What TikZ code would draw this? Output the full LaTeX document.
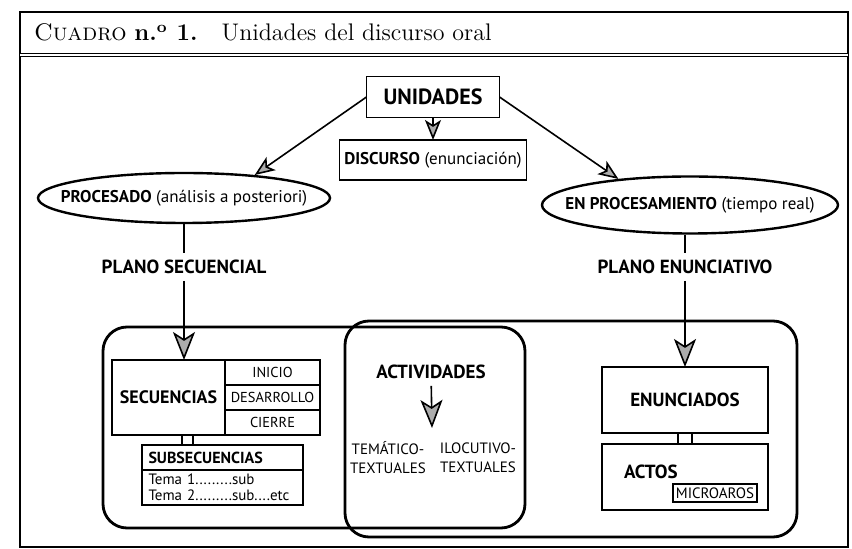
\documentclass[tikz,border=0pt]{standalone}
\usepackage{fontspec}
\setsansfont{PT Sans}
\usepackage{tikz}
\usetikzlibrary{shapes.geometric,arrows.meta,positioning}

\begin{document}
\begin{tikzpicture}[x=0.5pt,y=-0.5pt]
        \tikzstyle{every node} = [font=\sffamily\fontsize{8.5}{10}\selectfont]
        \tikzstyle{box} = [draw, rectangle, line width=0.8pt, inner sep=2pt, outer sep=0pt]
        \tikzstyle{oval} = [draw, ellipse, line width=1.2pt, inner xsep=-14pt, inner ysep=0pt]
        \tikzstyle{group} = [draw, rectangle, line width=1.4pt, rounded corners=12pt]
        \tikzstyle{link} = [draw, rectangle, line width=0.8pt, inner sep=0pt, outer sep=0pt, minimum height=5.5pt]
        \tikzstyle{small} = [font=\sffamily\fontsize{7.2}{8}\selectfont]
        \tikzstyle{head} = [font=\sffamily\bfseries\fontsize{9.5}{11}\selectfont]
        \tikzstyle{hatch} = [line width=0.8pt, -{Stealth[length=10pt, width=8pt, inset=2.5pt, fill=gray!65]}]
        \tikzstyle{bighatch} = [line width=0.8pt, -{Stealth[length=14pt, width=11pt, inset=3.5pt, fill=gray!65]}]
        \useasboundingbox (0,0) rectangle (852,549);
        % frame and title
        \draw[line width=0.9pt] (20,12) rectangle (848,547);
        \draw[line width=0.6pt, double, double distance=1.2pt] (20,55) -- (848,55);
        \node[anchor=base west, font=\rmfamily\fontsize{12}{14}\selectfont] (title) at (27,41)
            {\textsc{Cuadro} \textbf{n.\textsuperscript{o} 1.}\quad Unidades del discurso oral};
        % the two planes
        \node[group, minimum width=211pt, minimum height=100.5pt] (lgroup) at (314,427.5) {};
        \node[group, minimum width=226pt, minimum height=108pt] (rgroup) at (571,429) {};
        % top
        \node[box, font=\sffamily\bfseries\fontsize{11}{13}\selectfont, minimum width=66.5pt, minimum height=20.5pt] (unid) at (433,97) {UNIDADES};
        \node[box, minimum width=93.5pt, minimum height=20pt] (disc) at (433,160) {\textbf{DISCURSO} (enunciación)};
        \node[oval, minimum width=146pt, minimum height=25pt] (proc) at (184,198) {\textbf{PROCESADO} (análisis a posteriori)};
        \node[oval, minimum width=148pt, minimum height=28.5pt] (enproc) at (690,205) {\textbf{EN PROCESAMIENTO} (tiempo real)};
        \node[head] (plsec) at (184,267) {PLANO SECUENCIAL};
        \node[head] (plenu) at (685,267) {PLANO ENUNCIATIVO};
        % secuencias
        \node[box, head, font=\sffamily\bfseries\fontsize{9}{11}\selectfont, minimum width=56.5pt, minimum height=37.5pt] (seq) at (168.5,397.5) {SECUENCIAS};
        \node[box, small, anchor=north west, minimum width=47.5pt, minimum height=12.5pt] (inicio) at (seq.north east) {INICIO};
        \node[box, small, below=0pt of inicio, minimum width=47.5pt, minimum height=12.5pt] (desarr) {DESARROLLO};
        \node[box, small, below=0pt of desarr, minimum width=47.5pt, minimum height=12.5pt] (cierre) {CIERRE};
        \node[link, minimum width=5.5pt] (lnk1) at (187.5,440) {};
        \node[box, font=\sffamily\bfseries\fontsize{8}{9}\selectfont, minimum width=80.5pt, minimum height=12.5pt, text width=74pt, align=left] (subh) at (222.5,457.5) {SUBSECUENCIAS};
        \node[box, font=\sffamily\fontsize{7.5}{8}\selectfont, below=0pt of subh, minimum width=80.5pt, minimum height=17.5pt, text width=74pt, align=left] (subb) {Tema 1.........sub\\Tema 2.........sub....etc};
        % actividades
        \node[head] (act) at (431,372) {ACTIVIDADES};
        \coordinate (acttip) at (432,428);
        \node[align=center, font=\sffamily\fontsize{7.5}{9.5}\selectfont] (tem) at (388,458) {TEMÁTICO-\\TEXTUALES};
        \node[align=center, font=\sffamily\fontsize{7.5}{9.5}\selectfont] (iloc) at (478,458) {ILOCUTIVO-\\TEXTUALES};
        % enunciados
        \node[box, head, minimum width=83pt, minimum height=33pt] (enun) at (685,400) {ENUNCIADOS};
        \node[link, minimum width=7pt] (lnk2) at (685,438.5) {};
        \node[box, minimum width=83pt, minimum height=33pt] (actos) at (685,477) {};
        \node[head, anchor=west] (actlbl) at (617,472) {ACTOS};
        \node[box, font=\sffamily\fontsize{7.5}{8}\selectfont, minimum width=42pt, minimum height=9pt, inner sep=1pt] (micro) at (715,493) {MICROAROS};
        % connectors
        \foreach \from/\to in {proc/plsec, enproc/plenu}
            \draw[line width=0.8pt] (\to |- \from.south) -- (\to);
        \draw[hatch] (unid) -- (disc);
        \draw[hatch] (unid.west) -- (proc.18);
        \draw[hatch] (unid.east) -- (enproc.160);
        \draw[bighatch] (plsec) -- (plsec |- seq.north);
        \draw[bighatch] (plenu) -- (plenu |- enun.north);
        \draw[bighatch] (act) -- (acttip);
\end{tikzpicture}
\end{document}
